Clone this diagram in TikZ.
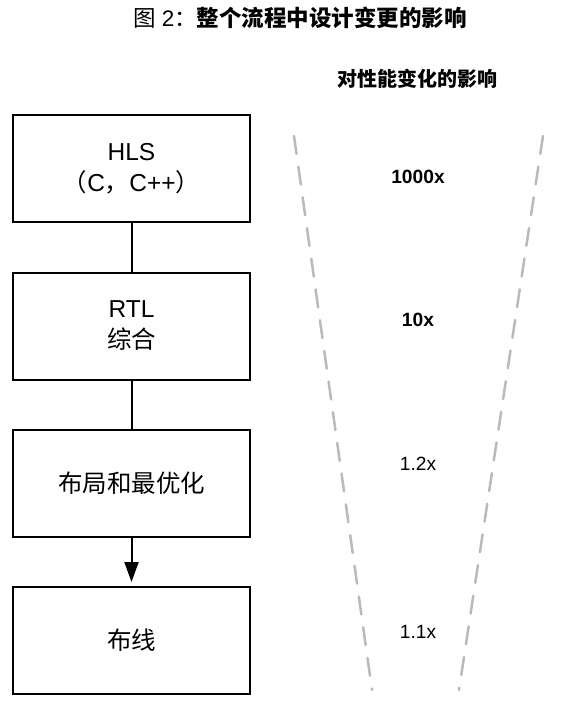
\documentclass[tikz,border=0pt]{standalone}
\usepackage{fontspec}
\setmainfont{Liberation Sans}
\newfontfamily\cjk{Noto Sans CJK SC}
\usetikzlibrary{arrows.meta}
\tikzset{
  stage/.style={draw=black, line width=2pt, minimum width=237pt, minimum height=107pt, inner sep=0pt, align=center, font=\fontsize{24.5}{31}\selectfont},
  link/.style={draw=black, line width=2pt},
  guide/.style={draw=black!27, line width=2.5pt, dash pattern=on 18pt off 13pt, line cap=round},
  factor/.style={font=\fontsize{19.2}{22}\selectfont},
}
\begin{document}
\begin{tikzpicture}[x=1pt, y=-1pt]
\useasboundingbox (0,0) rectangle (571,711);
\node[font=\fontsize{22.5}{26}\selectfont] (title) at (300,18) {{\cjk 图} 2{\cjk ：\bfseries 整个流程中设计变更的影响}};
\node[font=\fontsize{20}{24}\selectfont\cjk\bfseries] (head) at (417,79) {对性能变化的影响};

\node[stage] (hls) at (131.5,168.5) {HLS\\{\cjk （}C{\cjk ，}C++{\cjk ）}};
\node[stage] (rtl) at (131.5,326) {RTL\\{\cjk 综合}};
\node[stage] (pr) at (131.5,483.5) {\cjk 布局和最优化};
\node[stage] (route) at (131.5,640.5) {\cjk 布线};

\draw[link] (hls) -- (rtl);
\draw[link] (rtl) -- (pr);
\draw[link, -{Triangle[length=20pt,width=14pt]}, shorten >=4pt] (pr) -- (route);

\coordinate (l1) at (294,136);
\coordinate (l2) at (372,690);
\coordinate (r1) at (543,136);
\coordinate (r2) at (459,690);
\draw[guide] (l1) -- (l2);
\draw[guide] (r1) -- (r2);

\node[factor, font=\fontsize{19.2}{22}\selectfont\bfseries] (f1) at (418,177) {1000x};
\node[factor, font=\fontsize{19.2}{22}\selectfont\bfseries] (f2) at (418,320) {10x};
\node[factor] (f3) at (418,464) {1.2x};
\node[factor] (f4) at (418,632) {1.1x};
\end{tikzpicture}
\end{document}
